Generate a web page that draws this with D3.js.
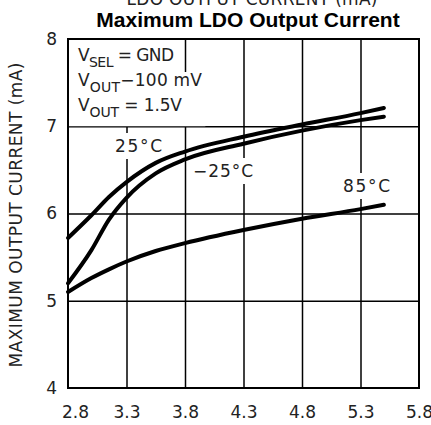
<!DOCTYPE html>
<html>
<head>
<meta charset="utf-8">
<style>
  body { margin: 0; background: #fff; }
  svg { display: block; }
  .lbl { font-family: 'DejaVu Sans', sans-serif; font-size: 17px; fill: #222; }
  .title { font-family: 'Liberation Sans', Arial, sans-serif; font-weight: bold; font-size: 21px; fill: #000; }
  .grid line { stroke: #000; stroke-width: 1.5; }
  .grid .domain { display: none; }
  .tk .domain, .tk line { display: none; }
  .tk text { font-family: 'DejaVu Sans', sans-serif; font-size: 17px; fill: #222; }
  .curve { fill: none; stroke: #000; stroke-width: 4; stroke-linecap: round; }
</style>
</head>
<body>
<svg width="431" height="425"></svg>
<script src="https://cdn.jsdelivr.net/npm/d3@7"></script>
<script>
// input voltage (V)
const vin   = [2.8, 3.0, 3.15, 3.3, 3.55, 3.8, 4.3, 4.8, 5.3, 5.5];
// max output current (mA) for each temperature
const t25   = [5.72, 5.98, 6.19, 6.36, 6.58, 6.71, 6.88, 7.02, 7.15, 7.21];
const tm25  = [5.20, 5.58, 5.93, 6.18, 6.46, 6.62, 6.80, 6.95, 7.07, 7.11];
const t85   = [5.10, 5.26, 5.36, 5.45, 5.57, 5.66, 5.81, 5.94, 6.05, 6.10];
const xTicks = [2.8, 3.3, 3.8, 4.3, 4.8, 5.3, 5.8];
const yTicks = [4, 5, 6, 7, 8];

let svg = d3.select("svg");
let pl = 68, pr = 419, pt = 39, pb = 388;

let x = d3.scaleLinear().domain([2.8, 5.8]).range([pl, pr]);
let y = d3.scaleLinear().domain([4, 8]).range([pb, pt]);

// titles
svg.append("text").attr("class", "lbl")
  .attr("x", 252).attr("y", 5).attr("text-anchor", "middle")
  .attr("textLength", 251).attr("lengthAdjust", "spacing")
  .text("LDO OUTPUT CURRENT (mA)");
svg.append("text").attr("class", "title")
  .attr("x", 248).attr("y", 27).attr("text-anchor", "middle")
  .text("Maximum LDO Output Current");

// grid
svg.append("g").attr("class", "grid")
  .attr("transform", `translate(0,${pb})`)
  .call(d3.axisBottom(x).tickValues(xTicks.slice(1, -1)).tickSize(-(pb - pt)).tickFormat(""));
svg.append("g").attr("class", "grid")
  .attr("transform", `translate(${pl},0)`)
  .call(d3.axisLeft(y).tickValues(yTicks.slice(1, -1)).tickSize(-(pr - pl)).tickFormat(""));

let bg = svg.append("g");
let curves = svg.append("g");
let labels = svg.append("g");

// tick labels
let xAx = svg.append("g").attr("class", "tk")
  .attr("transform", `translate(0,${pb})`)
  .call(d3.axisBottom(x).tickValues(xTicks).tickSize(0).tickPadding(18).tickFormat(d3.format(".1f")));
xAx.selectAll("text").filter(d => d === 2.8).attr("dx", 7);
svg.append("g").attr("class", "tk")
  .attr("transform", `translate(${pl},0)`)
  .call(d3.axisLeft(y).tickValues(yTicks).tickSize(0).tickPadding(11).tickFormat(d3.format("d")));

// y axis title
svg.append("text").attr("class", "lbl")
  .attr("transform", "translate(22,215) rotate(-90)")
  .attr("text-anchor", "middle")
  .attr("textLength", 305).attr("lengthAdjust", "spacing")
  .text("MAXIMUM OUTPUT CURRENT (mA)");

// curves
let line = d3.line().x(d => x(d[0])).y(d => y(d[1])).curve(d3.curveMonotoneX);
[t25, tm25, t85].forEach(s => {
  curves.append("path").attr("class", "curve")
    .attr("d", line(vin.map((v, i) => [v, s[i]])));
});

// annotation block
function vLine(yy, sub, rest, len) {
  let t = labels.append("text").attr("class", "lbl").attr("x", 78).attr("y", yy)
    .attr("textLength", len).attr("lengthAdjust", "spacing");
  t.append("tspan").text("V");
  t.append("tspan").attr("dy", 6).style("font-size", "14px").text(sub);
  t.append("tspan").attr("dy", -6).text(rest);
  return t;
}
let a1 = vLine(61, "SEL", " = GND", 96);
let a2 = vLine(86, "OUT", "\u2212100 mV", 124);
let a3 = vLine(111, "OUT", " = 1.5V", 104);

let b1 = a1.node().getBBox();
bg.append("rect").attr("x", pl).attr("y", pt)
  .attr("width", b1.x + b1.width + 4 - pl).attr("height", b1.y + b1.height + 2 - pt)
  .attr("fill", "#fff");
let b2 = a2.node().getBBox();
bg.append("rect").attr("x", pl).attr("y", b1.y + b1.height + 2)
  .attr("width", b2.x + b2.width + 3 - pl).attr("height", y(7) - (b1.y + b1.height + 2))
  .attr("fill", "#fff");

// temperature labels
const tempLabels = ["25\u00B0C", "\u221225\u00B0C", "85\u00B0C"];
const tempPos = [[115, 152, 47], [193, 177, 60], [343, 192, 47]];
tempLabels.forEach((s, i) => {
  let p = tempPos[i];
  let t = labels.append("text").attr("class", "lbl")
    .attr("x", p[0]).attr("y", p[1])
    .attr("textLength", p[2]).attr("lengthAdjust", "spacing")
    .text(s);
  let b = t.node().getBBox();
  bg.append("rect").attr("x", b.x - 3).attr("y", b.y - 3)
    .attr("width", b.width + 6).attr("height", b.height + 6).attr("fill", "#fff");
});

// frame
svg.append("rect").attr("x", pl).attr("y", pt)
  .attr("width", pr - pl).attr("height", pb - pt)
  .attr("fill", "none").attr("stroke", "#000").attr("stroke-width", 2);
</script>
</body>
</html>
